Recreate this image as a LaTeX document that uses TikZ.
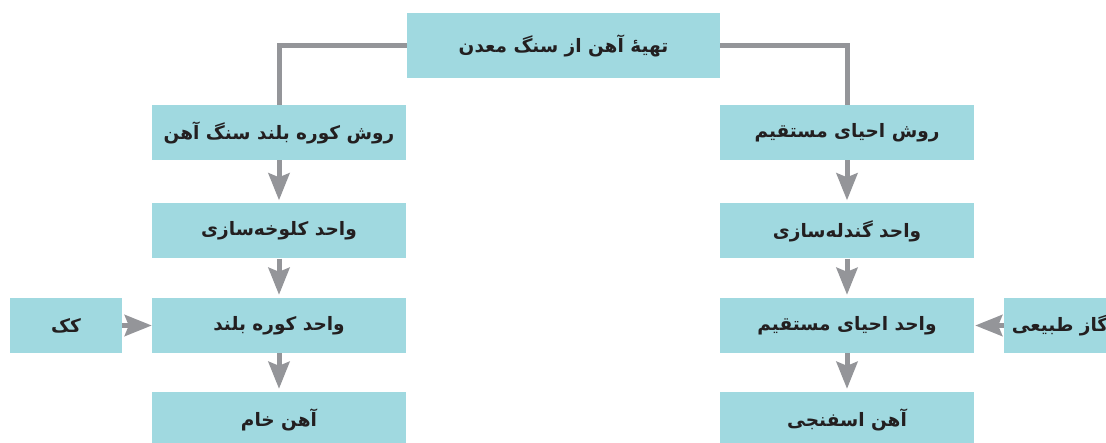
\documentclass[tikz,border=0pt]{standalone}
\usepackage{fontspec}
\usetikzlibrary{arrows.meta}
\TeXXeTstate=1
\newfontfamily\fa[Script=Arabic]{DejaVu Sans}
\definecolor{boxfill}{RGB}{160,217,224}
\definecolor{conn}{RGB}{148,149,153}
\definecolor{txt}{RGB}{35,31,32}
\tikzset{
  box/.style={rectangle, fill=boxfill, draw=none, inner sep=0pt, minimum width=254pt, minimum height=55pt,
    font=\fa\bfseries\fontsize{18.5}{22}\selectfont, text=txt},
  smallbox/.style={box, minimum width=112pt},
  topbox/.style={box, minimum width=313pt, minimum height=65pt},
  link/.style={draw=conn, line width=5pt},
  arr/.style={link, -{Stealth[length=27pt, width=21pt, inset=4pt]}}
}
\begin{document}
\begin{tikzpicture}[x=1pt, y=-1pt]
\useasboundingbox (0,0) rectangle (1106,443);
\clip (0,0) rectangle (1106,443);
\node[topbox] (top) at (563.5,45.5) {\beginR تهیهٔ آهن از سنگ معدن\endR};
\node[box] (L1) at (279,132.5) {\beginR روش کوره بلند سنگ آهن\endR};
\node[box] (L2) at (279,231) {\beginR واحد کلوخه‌سازی\endR};
\node[box] (L3) at (279,325.5) {\beginR واحد کوره بلند\endR};
\node[box] (L4) at (279,419.5) {\beginR آهن خام\endR};
\node[box] (R1) at (847,132.5) {\beginR روش احیای مستقیم\endR};
\node[box] (R2) at (847,231) {\beginR واحد گندله‌سازی\endR};
\node[box] (R3) at (847,325.5) {\beginR واحد احیای مستقیم\endR};
\node[box] (R4) at (847,419.5) {\beginR آهن اسفنجی\endR};
\node[smallbox] (coke) at (66,325.5) {\beginR کک\endR};
\node[smallbox] (gas) at (1060,325.5) {\beginR گاز طبیعی\endR};
\draw[link] (top.west) -| (L1.north);
\draw[link] (top.east) -| (R1.north);
\draw[arr] (L1.south) -- ([yshift=3pt]L2.north);
\draw[arr] (L2.south) -- ([yshift=3pt]L3.north);
\draw[arr] (L3.south) -- ([yshift=3pt]L4.north);
\draw[arr] (R1.south) -- ([yshift=3pt]R2.north);
\draw[arr] (R2.south) -- ([yshift=3pt]R3.north);
\draw[arr] (R3.south) -- ([yshift=3pt]R4.north);
\draw[arr] (coke.east) -- (L3.west);
\draw[arr] (gas.west) -- ([xshift=1pt]R3.east);
\end{tikzpicture}
\end{document}
